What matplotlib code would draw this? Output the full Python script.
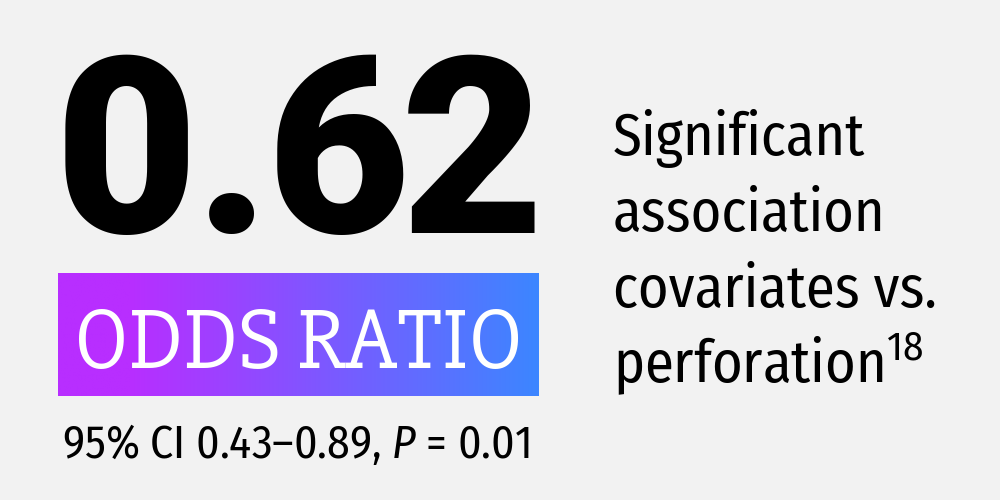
import matplotlib
matplotlib.use('Agg')
import matplotlib.pyplot as plt
import numpy as np
from matplotlib.colors import LinearSegmentedColormap

plt.rcParams['mathtext.fontset'] = 'custom'
plt.rcParams['mathtext.rm'] = 'Fira Sans Condensed'
plt.rcParams['mathtext.it'] = 'Fira Sans Condensed:italic'

# content
odds_ratio = '0.62'
label = 'ODDS RATIO'
ci_text = '95% CI 0.43–0.89, $P$ = 0.01'
desc_lines = ['Significant', 'association', 'covariates vs.', r'perforation$^{18}$']

bg = '#f2f2f2'
grad_stops = [0.0, 0.15, 1.0]
grad_colors = ['#b82eff', '#b82eff', '#3c86ff']

BIG_FONT = ['Roboto', 'Inter', 'DejaVu Sans']
SLAB_FONT = ['Slabo 27px', 'Zilla Slab', 'DejaVu Serif']
COND_FONT = ['Fira Sans Condensed', 'Roboto Condensed', 'DejaVu Sans']

fig = plt.figure(figsize=(10, 5), dpi=100, facecolor=bg)
ax = fig.add_axes([0, 0, 1, 1])
ax.set_xlim(0, 1000)
ax.set_ylim(500, 0)
ax.axis('off')
ax.set_facecolor(bg)
renderer = fig.canvas.get_renderer()


def fit(t, width):
    # scale the font so the text is the given width in pixels
    w = t.get_window_extent(renderer).width
    t.set_fontsize(t.get_fontsize() * width / w)


# gradient box
cmap = LinearSegmentedColormap.from_list('grad', list(zip(grad_stops, grad_colors)))
ramp = np.linspace(0, 1, 256).reshape(1, -1)
ax.imshow(ramp, cmap=cmap, extent=[58, 539, 396, 273], aspect='auto', zorder=1)

# big number, set tight like the original (one glyph per slot)
big_centers = [126, 232, 338, 472]
for ch, cx in zip(odds_ratio, big_centers):
    ax.text(cx, 233, ch, family=BIG_FONT, weight=900, fontsize=178,
            color='black', ha='center', va='baseline')

lab = ax.text(298.5, 368, label, family=SLAB_FONT, fontsize=60, color='white',
              ha='center', va='baseline', zorder=2)
fit(lab, 450)

ci = ax.text(62, 458, ci_text, family=COND_FONT, fontsize=30, color='black',
             ha='left', va='baseline')
fit(ci, 468)

baselines = [155, 231, 307, 382]
for line, y in zip(desc_lines, baselines):
    ax.text(613, y, line, family=COND_FONT, fontsize=42, color='black',
            ha='left', va='baseline')

fig.savefig('out.png', dpi=100, facecolor=bg)
